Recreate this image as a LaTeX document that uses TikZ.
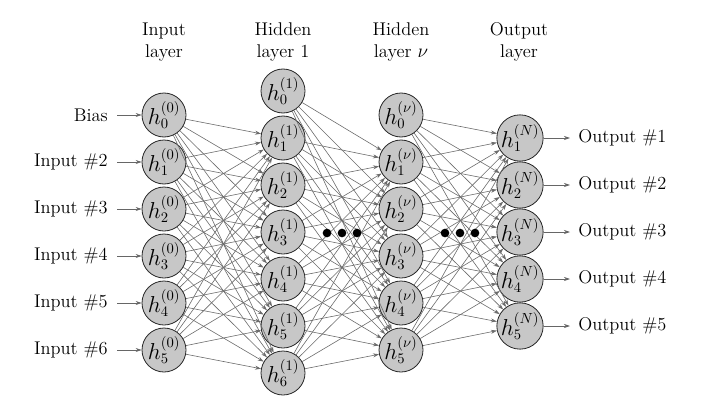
\documentclass[tikz,border=0pt]{standalone}
\usetikzlibrary{arrows.meta}
\begin{document}
\begin{tikzpicture}[x=0.75pt,y=-0.75pt,
  neuron/.style={circle,draw=black!85,fill=black!22,line width=0.6pt,
    minimum size=33pt,inner sep=0pt,font=\fontsize{16}{18}\selectfont},
  edge/.style={draw=black!58,line width=0.45pt,-{Stealth[length=4.5pt,width=3pt]}},
  io/.style={draw=black!60,line width=0.5pt,-{Stealth[length=4.5pt,width=3pt]}},
  inlbl/.style={anchor=east,inner sep=6.75pt,font=\fontsize{13.8}{16}\selectfont},
  outlbl/.style={anchor=west,inner sep=6pt,font=\fontsize{13.8}{16}\selectfont},
  head/.style={font=\fontsize{13.8}{17}\selectfont,align=center},
  ellip/.style={circle,fill=black,inner sep=0pt,minimum size=6.5pt}
]
\useasboundingbox (0,0) rectangle (723,403);

% layer headings
\node[head] (hin)  at (164,42) {Input\\layer};
\node[head] (hh1)  at (283,42) {Hidden\\layer 1};
\node[head] (hhv)  at (401,42) {Hidden\\layer $\nu$};
\node[head] (hout) at (519,42) {Output\\layer};

% neurons
\foreach \k in {0,...,5}
  \node[neuron] (I\k) at (164,115+47*\k) {$h_{\k}^{(0)}$};
\foreach \k in {0,...,6}
  \node[neuron] (H\k) at (283,91+47*\k) {$h_{\k}^{(1)}$};
\foreach \k in {0,...,5}
  \node[neuron] (V\k) at (401,115+47*\k) {$h_{\k}^{(\nu)}$};
\foreach \k in {1,...,5}
  \node[neuron] (O\k) at (520,91+47*\k) {$h_{\k}^{(N)}$};

% weighted connections
\foreach \i in {0,...,5}
  \foreach \j in {1,...,6}
    \draw[edge] (I\i) -- (H\j);
\foreach \i in {0,...,6}
  \foreach \j in {1,...,5}
    \draw[edge] (H\i) -- (V\j);
\foreach \i in {0,...,5}
  \foreach \j in {1,...,5}
    \draw[edge] (V\i) -- (O\j);

% inputs
\foreach \k/\t in {0/Bias,1/Input \#2,2/Input \#3,3/Input \#4,4/Input \#5,5/Input \#6} {
  \node[inlbl] (L\k) at (117,115+47*\k) {\t};
  \draw[io] (L\k) -- (I\k);
}

% outputs
\foreach \k in {1,...,5} {
  \node[outlbl] (R\k) at (570,91+47*\k) {Output \#\k};
  \draw[io] (O\k) -- (R\k);
}

% omitted hidden layers
\node[ellip] (a1) at (327,233) {};
\node[ellip] (a2) at (342,233) {};
\node[ellip] (a3) at (357,233) {};
\node[ellip] (b1) at (445,233) {};
\node[ellip] (b2) at (460,233) {};
\node[ellip] (b3) at (475,233) {};
\end{tikzpicture}
\end{document}
